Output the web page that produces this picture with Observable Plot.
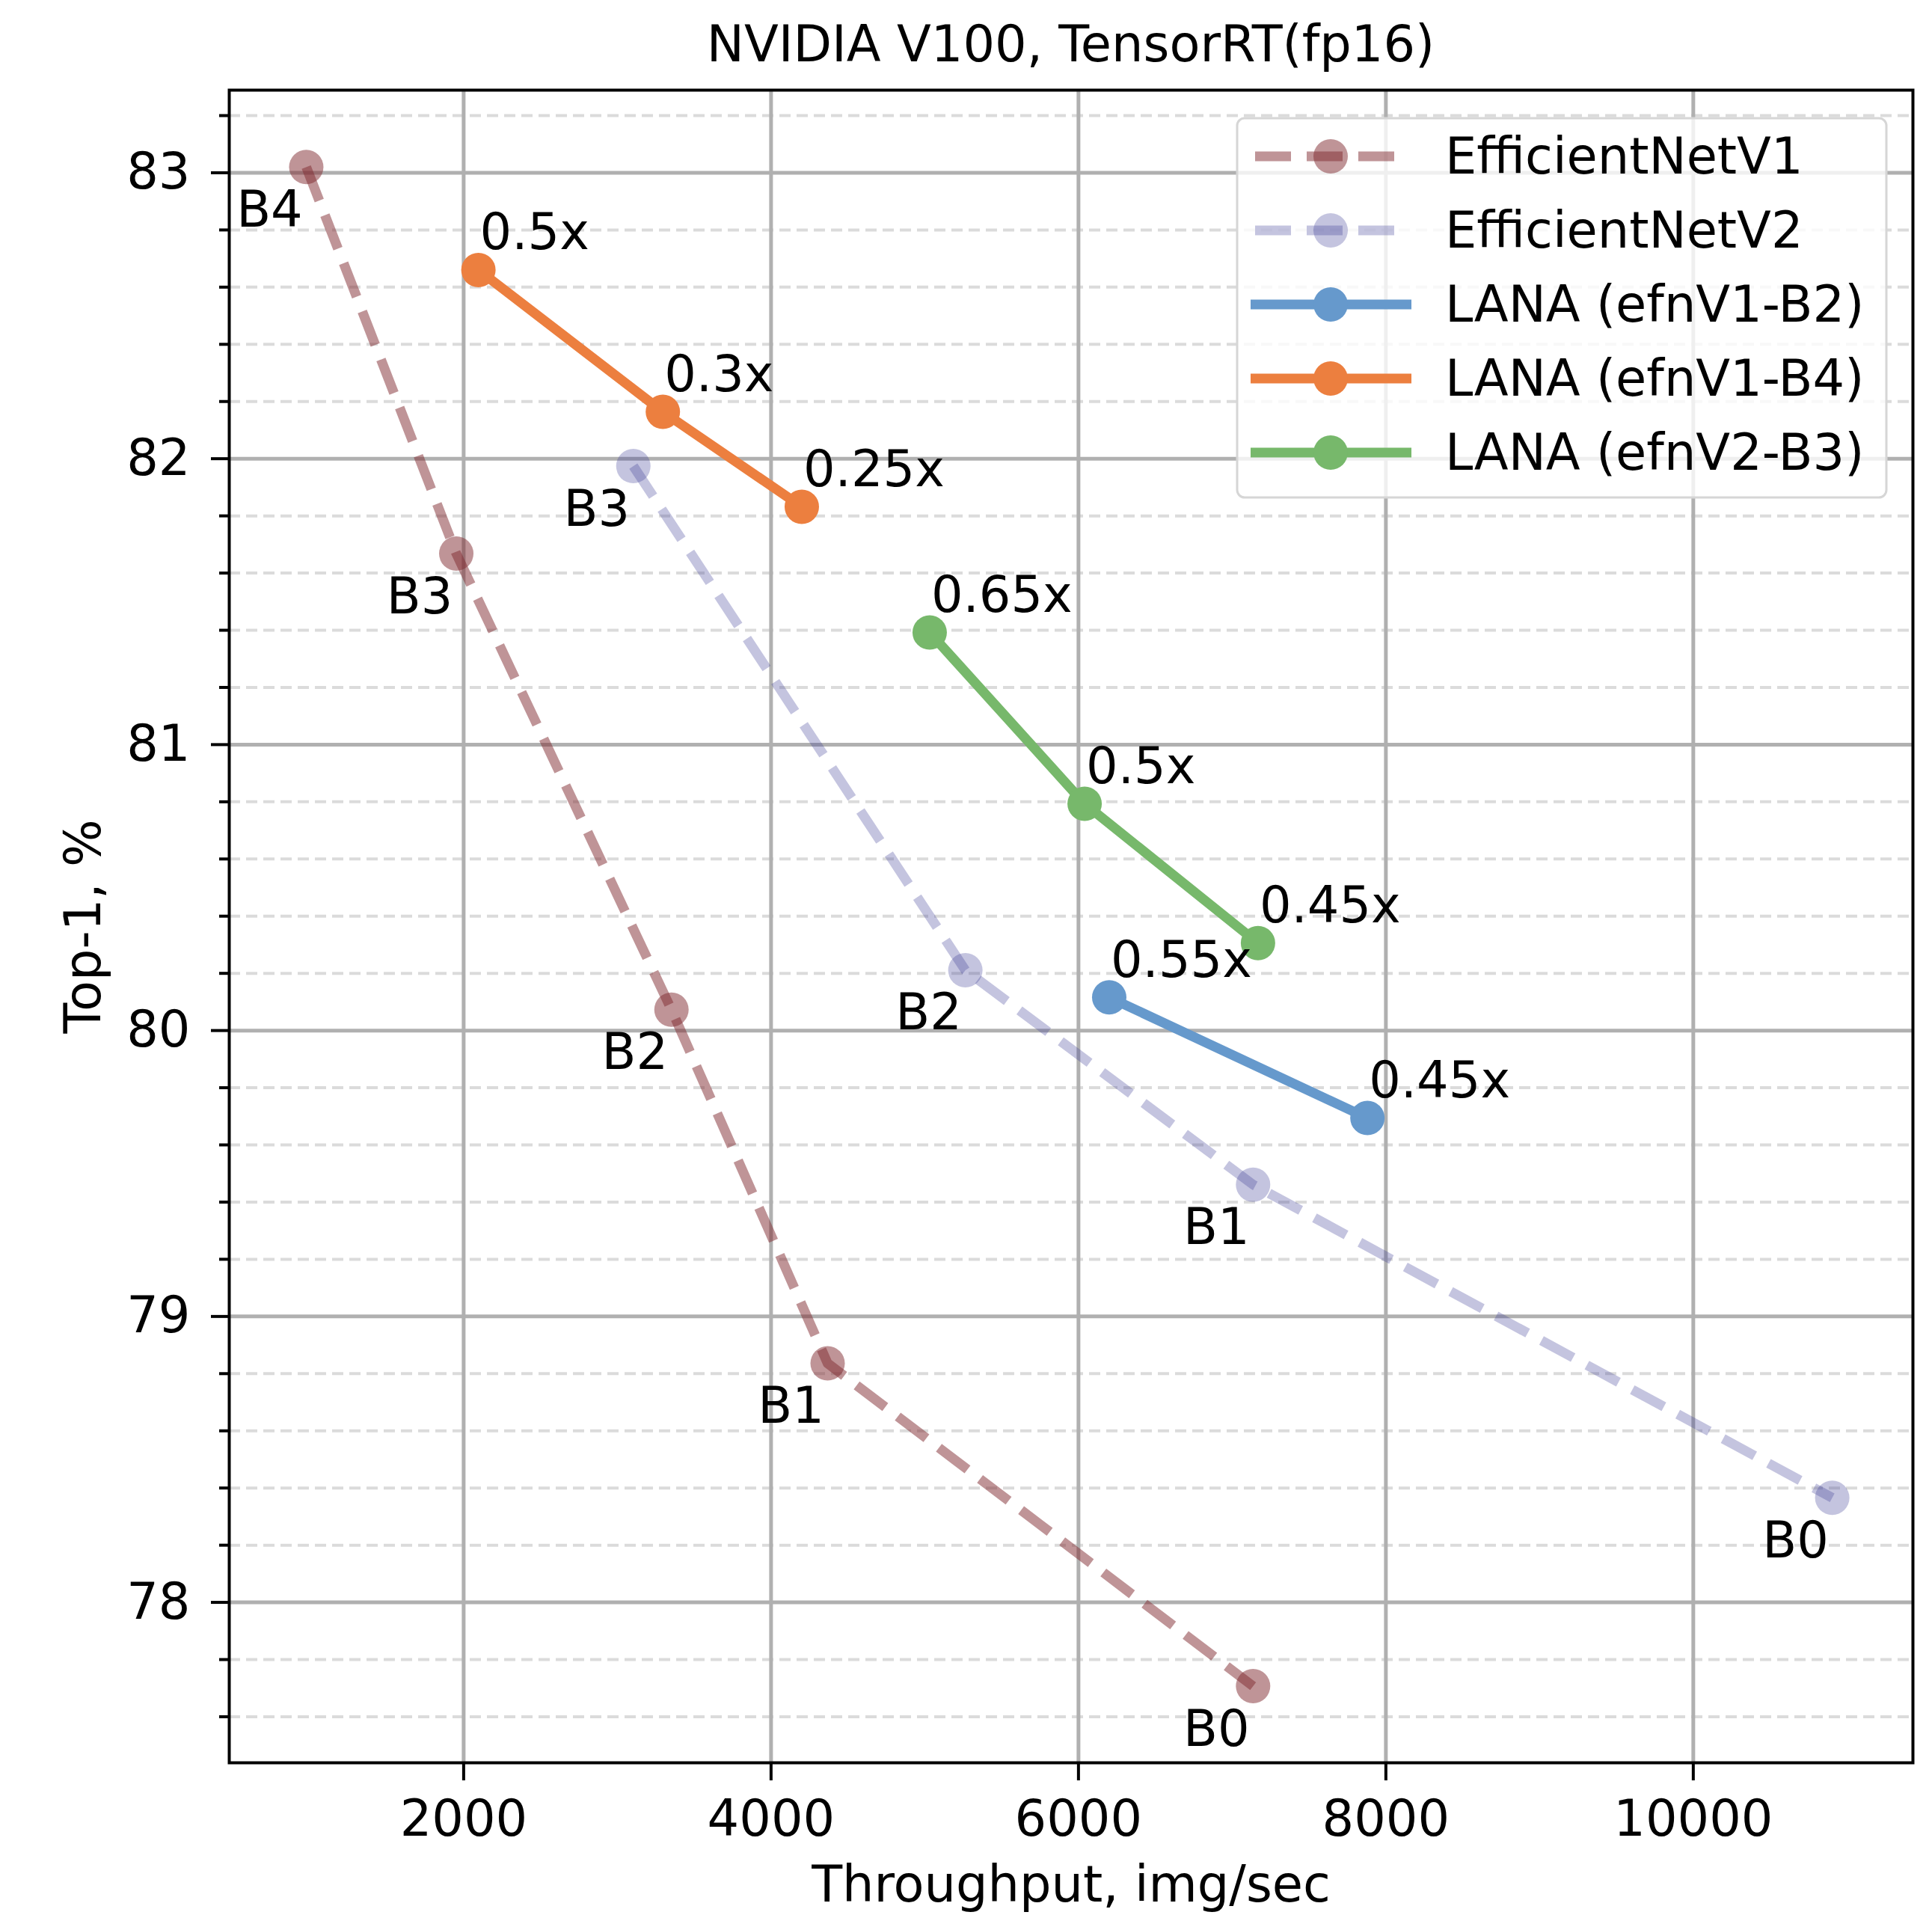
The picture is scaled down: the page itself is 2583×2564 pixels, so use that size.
<!DOCTYPE html>
<html><head><meta charset="utf-8">
<script src="https://cdn.jsdelivr.net/npm/d3@7"></script>
<script src="https://cdn.jsdelivr.net/npm/@observablehq/plot@0.6"></script>
<style>
body{margin:0;background:#fff;font-family:"DejaVu Sans",sans-serif;}
#wrap{position:relative;width:2583px;height:2564px;background:#fff;}
#title{height:118px;box-sizing:border-box;padding-left:306px;padding-right:26px;display:flex;align-items:center;justify-content:center;font-size:67px;color:#000;font-family:"DejaVu Sans",sans-serif;}
#legend{position:absolute;left:1652px;top:156px;}
</style></head><body>
<div id="wrap"><div id="title">NVIDIA V100, TensorRT(fp16)</div><div id="chart"></div><div id="legend"></div></div>
<script>
// ---- data ----
const seriesNames = ["EfficientNetV1","EfficientNetV2","LANA (efnV1-B2)","LANA (efnV1-B4)","LANA (efnV2-B3)"];
const seriesColors = ["#7f2a30","#3c3c96","#6699cc","#ec7f3f","#77b86b"];
const seriesOpacity = [0.5,0.3,1,1,1];
const seriesDashed = [true,true,false,false,false];

const v1Labels = ["B4","B3","B2","B1","B0"];
const v1Throughput = [976,1952,3352,4368,7136];
const v1Top1 = [83.02,81.668,80.073,78.836,77.707];

const v2Labels = ["B3","B2","B1","B0"];
const v2Throughput = [3104,5264,7136,10904];
const v2Top1 = [81.974,80.211,79.461,78.366];

const lanaB2Labels = ["0.55x","0.45x"];
const lanaB2Throughput = [6200,7880];
const lanaB2Top1 = [80.116,79.694];

const lanaB4Labels = ["0.5x","0.3x","0.25x"];
const lanaB4Throughput = [2096,3296,4200];
const lanaB4Top1 = [82.66,82.164,81.832];

const lanaV2B3Labels = ["0.65x","0.5x","0.45x"];
const lanaV2B3Throughput = [5032,6040,7168];
const lanaV2B3Top1 = [81.392,80.793,80.306];

const xTicks = [2000,4000,6000,8000,10000];
const yTicks = [78,79,80,81,82,83];
const yMinorTicks = [77.6,77.8,78.2,78.4,78.6,78.8,79.2,79.4,79.6,79.8,80.2,80.4,80.6,80.8,81.2,81.4,81.6,81.8,82.2,82.4,82.6,82.8,83.2];

const titleText = "NVIDIA V100, TensorRT(fp16)";
const xLabel = "Throughput, img/sec";
const yLabel = "Top-1, %";

// ---- build tables ----
const raw = [
  [v1Labels, v1Throughput, v1Top1],
  [v2Labels, v2Throughput, v2Top1],
  [lanaB2Labels, lanaB2Throughput, lanaB2Top1],
  [lanaB4Labels, lanaB4Throughput, lanaB4Top1],
  [lanaV2B3Labels, lanaV2B3Throughput, lanaV2B3Top1]
];
const tables = raw.map(([labs, xs, ys], i) => labs.map((l, j) => ({series: seriesNames[i], label: l, x: xs[j], y: ys[j]})));

const FS = 67;
const marks = [
  Plot.gridY({ticks: yMinorTicks, stroke: "#b0b0b0", strokeOpacity: 0.45, strokeWidth: 4, strokeDasharray: "15,8"}),
  Plot.gridY({ticks: yTicks, stroke: "#b0b0b0", strokeOpacity: 1, strokeWidth: 5}),
  Plot.gridX({ticks: xTicks, stroke: "#b0b0b0", strokeOpacity: 1, strokeWidth: 5})
];
tables.forEach((t, i) => {
  marks.push(Plot.line(t, {x: "x", y: "y", stroke: seriesColors[i], strokeOpacity: seriesOpacity[i], strokeWidth: 13,
    strokeDasharray: seriesDashed[i] ? "48,21" : null, strokeLinecap: seriesDashed[i] ? "butt" : "square", strokeLinejoin: "round"}));
  marks.push(Plot.dot(t, {x: "x", y: "y", r: 23, fill: seriesColors[i], fillOpacity: seriesOpacity[i], stroke: "none"}));
});
tables.forEach((t, i) => {
  if (seriesDashed[i]) {
    marks.push(Plot.text(t, {x: "x", y: "y", text: "label", dx: -49, dy: 58, textAnchor: "middle", lineAnchor: "middle", fill: "black", fontSize: FS}));
  } else {
    marks.push(Plot.text(t, {x: "x", y: "y", text: "label", dx: 2, dy: -49, textAnchor: "start", lineAnchor: "middle", fill: "black", fontSize: FS}));
  }
});
marks.push(
  Plot.frame({stroke: "black", strokeWidth: 4}),
  Plot.axisX({ticks: xTicks, tickSize: 24, tickPadding: 26, strokeWidth: 4, tickFormat: d => String(d), label: null, fontSize: FS}),
  Plot.axisY({ticks: yTicks, tickSize: 24, tickPadding: 28, strokeWidth: 4, tickFormat: d => String(d), label: null, fontSize: FS}),
  Plot.axisY({ticks: yMinorTicks, tickSize: 13, strokeWidth: 4, tickFormat: () => "", label: null}),
  Plot.text([xLabel], {text: d => d, frameAnchor: "bottom", dy: 164, textAnchor: "middle", lineAnchor: "middle", fill: "black", fontSize: FS}),
  Plot.text([yLabel], {text: d => d, frameAnchor: "left", dx: -194, rotate: -90, textAnchor: "middle", lineAnchor: "middle", fill: "black", fontSize: FS})
);

document.getElementById("title").textContent = titleText;

const chart = Plot.plot({
  width: 2583,
  height: 2446,
  marginLeft: 306,
  marginRight: 26,
  marginTop: 2,
  marginBottom: 208,
  x: {domain: [475, 11429]},
  y: {domain: [77.439, 83.289]},
  style: {fontFamily: "DejaVu Sans, sans-serif", fontSize: FS + "px", background: "white", color: "black", overflow: "visible"},
  marks
});
document.getElementById("chart").appendChild(chart);

// ---- legend (HTML overlay, drawn with d3) ----
const lw = 872, lh = 511;
const lsvg = d3.select("#legend").append("svg").attr("width", lw).attr("height", lh)
  .style("font-family", "DejaVu Sans, sans-serif").style("font-size", FS + "px");
lsvg.append("rect").attr("x", 2).attr("y", 2).attr("width", lw - 4).attr("height", lh - 4).attr("rx", 10)
  .attr("fill", "white").attr("fill-opacity", 0.8).attr("stroke", "#d6d6d6").attr("stroke-width", 3);
seriesNames.forEach((name, i) => {
  const cy = 53 + 99 * i;
  const g = lsvg.append("g");
  if (seriesDashed[i]) {
    g.append("line").attr("x1", 26).attr("x2", 218).attr("y1", cy).attr("y2", cy)
      .attr("stroke", seriesColors[i]).attr("stroke-opacity", seriesOpacity[i]).attr("stroke-width", 13)
      .attr("stroke-dasharray", "48,21");
  } else {
    g.append("line").attr("x1", 20).attr("x2", 235).attr("y1", cy).attr("y2", cy)
      .attr("stroke", seriesColors[i]).attr("stroke-width", 13);
  }
  g.append("circle").attr("cx", 127).attr("cy", cy).attr("r", 23)
    .attr("fill", seriesColors[i]).attr("fill-opacity", seriesOpacity[i]);
  g.append("text").attr("x", 280).attr("y", cy).attr("dy", "0.35em").attr("fill", "black").text(name);
});
</script>
</body></html>
